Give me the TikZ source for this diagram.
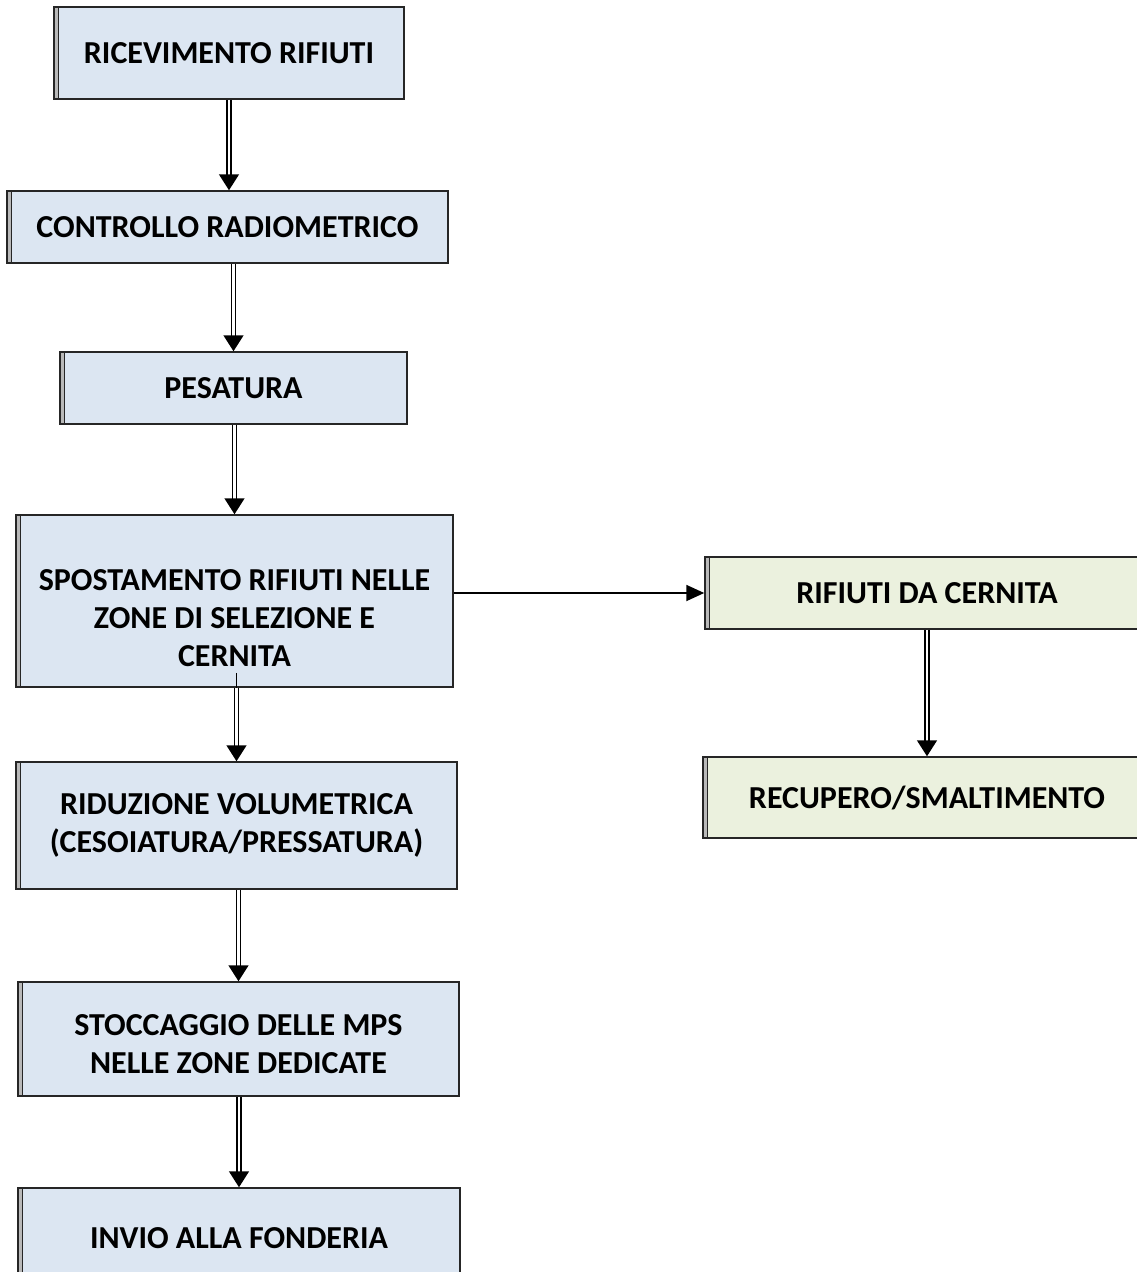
\documentclass[tikz,border=0pt]{standalone}
\usepackage{fontspec}
\setmainfont{Carlito}
\usepackage{tikz}
\usetikzlibrary{arrows.meta}
\definecolor{azzurro}{HTML}{DCE6F2}
\definecolor{verdino}{HTML}{EBF1DE}
\tikzset{
	fase/.style={
			rectangle, draw=black!85, line width=1.5pt, fill=azzurro,
			align=center, inner sep=0pt,
			font=\fontsize{32}{38}\selectfont\bfseries,
			path picture={
					\fill[gray!55] (path picture bounding box.north west) rectangle ([xshift=4pt]path picture bounding box.south west);
					\draw[line width=1pt] ([xshift=4pt]path picture bounding box.north west) -- ([xshift=4pt]path picture bounding box.south west);
				}
		}
}

\begin{document}
\begin{tikzpicture}[x=1pt, y=-1pt]
    \useasboundingbox (0,0) rectangle (1136,1272);
    \tikzstyle{fase_v}=[fase, fill=verdino]
    \tikzstyle{freccia}=[draw=black, line width=1.6pt, double=white, double distance=2.2pt, -{Triangle[length=16pt,width=20pt]}]
    \tikzstyle{freccia_s}=[draw=black, line width=1.8pt, -{Triangle[length=18pt,width=16pt]}]

    \node (ricevimento) at (229,53) [fase, minimum width=350, minimum height=92] {RICEVIMENTO RIFIUTI};
    \node (controllo) at (227.5,227) [fase, minimum width=441, minimum height=72] {CONTROLLO RADIOMETRICO};
    \node (pesatura) at (233.5,388) [fase, minimum width=347, minimum height=72] {PESATURA};
    \node (spostamento) at (234.5,601) [fase, minimum width=437, minimum height=172] {\rule{0pt}{55pt}SPOSTAMENTO RIFIUTI NELLE\\ZONE DI SELEZIONE E\\CERNITA};
    \node (riduzione) at (236.5,825.5) [fase, minimum width=441, minimum height=127] {RIDUZIONE VOLUMETRICA\\(CESOIATURA/PRESSATURA)};
    \node (stoccaggio) at (238.5,1039) [fase, minimum width=441, minimum height=114] {\rule{0pt}{31pt}STOCCAGGIO DELLE MPS\\NELLE ZONE DEDICATE};
    \node (invio) at (239,1238) [fase, minimum width=442, minimum height=100] {INVIO ALLA FONDERIA};

    \node (cernita) at (927,593) [fase_v, minimum width=444, minimum height=72] {RIFIUTI DA CERNITA};
    \node (recupero) at (927,797.5) [fase_v, minimum width=448, minimum height=81] {RECUPERO/SMALTIMENTO};

    \path (ricevimento.south) edge [freccia] (ricevimento.south |- controllo.north);
    \path (pesatura.north |- controllo.south) edge [freccia] (pesatura.north);
    \path (spostamento.north |- pesatura.south) edge [freccia] (spostamento.north);
    \path (riduzione.north |- spostamento.south) ++(0,-15) coordinate (sp_in);
    \draw[line width=1pt] (sp_in) -- (riduzione.north |- spostamento.south);
    \path (riduzione.north |- spostamento.south) edge [freccia] (riduzione.north);
    \path (stoccaggio.north |- riduzione.south) edge [freccia] (stoccaggio.north);
    \path (invio.north |- stoccaggio.south) edge [freccia] (invio.north);

    \path (spostamento.east |- cernita.west) edge [freccia_s] (cernita.west);
    \path (recupero.north |- cernita.south) edge [freccia] (recupero.north);
\end{tikzpicture}
\end{document}
